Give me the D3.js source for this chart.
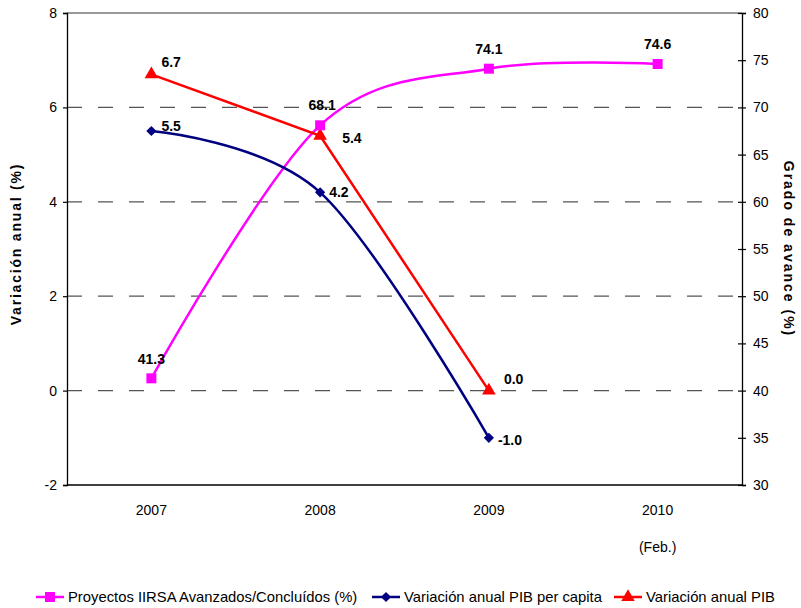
<!DOCTYPE html>
<html>
<head>
<meta charset="utf-8">
<script src="https://cdn.jsdelivr.net/npm/d3@7"></script>
<style>
  body { margin: 0; background: #fff; }
  text { font-family: "Liberation Sans", Arial, sans-serif; }
</style>
</head>
<body>
<svg id="chart" width="801" height="608"></svg>
<script>
// Categories and series
const years = ["2007", "2008", "2009", "2010"];
const proyectos = [41.3, 68.1, 74.1, 74.6];      // right axis (%)
const pibPerCapita = [5.5, 4.2, -1.0];            // left axis (%)
const pib = [6.7, 5.4, 0.0];                      // left axis (%)
const leftTicks = [-2, 0, 2, 4, 6, 8];
const rightTicks = [30, 35, 40, 45, 50, 55, 60, 65, 70, 75, 80];

const svg = d3.select("#chart");
const m = { left: 67, right: 742, top: 13, bottom: 485 };
const hyphenMinus = s => String(s).replace("\u2212", "-");

const x = d3.scalePoint().domain(years).range([m.left, m.right]).padding(0.5);
const yL = d3.scaleLinear().domain([-2, 8]).range([m.bottom, m.top]);
const yR = d3.scaleLinear().domain([30, 80]).range([m.bottom, m.top]);

// Gridlines
svg.append("g").selectAll("line")
  .data(leftTicks.filter(d => d > -2 && d < 8))
  .join("line")
  .attr("x1", m.left).attr("x2", m.right)
  .attr("y1", d => yL(d)).attr("y2", d => yL(d))
  .attr("stroke", "#555").attr("stroke-width", 1.3)
  .attr("stroke-dasharray", "15,16");
svg.append("line")
  .attr("x1", m.left).attr("x2", m.right)
  .attr("y1", yL(8)).attr("y2", yL(8))
  .attr("stroke", "#777").attr("stroke-width", 1.3);

// Left axis
const axL = d3.axisLeft(yL).tickValues(leftTicks).tickSize(4).tickPadding(6)
  .tickFormat(d => hyphenMinus(d3.format("d")(d)));
const gL = svg.append("g").attr("transform", `translate(${m.left},0)`).call(axL);
gL.select(".domain").attr("stroke", "#000").attr("stroke-width", 1.3);
gL.selectAll(".tick line").attr("stroke", "#000").attr("stroke-width", 1.2);
gL.selectAll("text").attr("font-size", 14).attr("fill", "#000")
  .style("font-family", "'Liberation Sans', Arial, sans-serif");

// Right axis (ticks cross the axis line)
const axR = d3.axisRight(yR).tickValues(rightTicks).tickSize(4).tickPadding(7).tickFormat(d3.format("d"));
const gR = svg.append("g").attr("transform", `translate(${m.right},0)`).call(axR);
gR.select(".domain").attr("stroke", "#000").attr("stroke-width", 1.3);
gR.selectAll(".tick line").attr("x1", -4).attr("x2", 4).attr("stroke", "#000").attr("stroke-width", 1.2);
gR.selectAll("text").attr("font-size", 14).attr("fill", "#000")
  .style("font-family", "'Liberation Sans', Arial, sans-serif");

// Bottom axis
svg.append("line")
  .attr("x1", m.left).attr("x2", m.right)
  .attr("y1", m.bottom).attr("y2", m.bottom)
  .attr("stroke", "#000").attr("stroke-width", 1.3);
svg.append("g").selectAll("text").data(years).join("text")
  .attr("x", d => x(d)).attr("y", 515)
  .attr("text-anchor", "middle").attr("font-size", 14).text(d => d);
svg.append("text").attr("x", x("2010")).attr("y", 552)
  .attr("text-anchor", "middle").attr("font-size", 14).text("(Feb.)");

// Axis titles
svg.append("text")
  .attr("transform", "translate(21,244) rotate(-90)")
  .attr("text-anchor", "middle").attr("font-size", 14).attr("font-weight", "bold")
  .attr("letter-spacing", 1.8)
  .text("Variación anual (%)");
svg.append("text")
  .attr("transform", "translate(784,249) rotate(90)")
  .attr("text-anchor", "middle").attr("font-size", 14).attr("font-weight", "bold")
  .attr("letter-spacing", 2)
  .text("Grado de avance (%)");

// Series
const smooth = d3.curveCardinal.tension(0);
const pink = "#ff00ff", navy = "#000080", red = "#ff0000";

const lineP = d3.line().x((d, i) => x(years[i])).y(d => yR(d)).curve(smooth);
const lineB = d3.line().x((d, i) => x(years[i])).y(d => yL(d)).curve(smooth);
const lineR = d3.line().x((d, i) => x(years[i])).y(d => yL(d));

svg.append("path").attr("d", lineP(proyectos)).attr("fill", "none").attr("stroke", pink).attr("stroke-width", 2.5);
svg.append("path").attr("d", lineB(pibPerCapita)).attr("fill", "none").attr("stroke", navy).attr("stroke-width", 2.5);
svg.append("path").attr("d", lineR(pib)).attr("fill", "none").attr("stroke", red).attr("stroke-width", 2.5);

const sq = d3.symbol().type(d3.symbolSquare).size(100);
const dm = d3.symbol().type(d3.symbolSquare).size(52);
const tri = d3.symbol().type(d3.symbolTriangle).size(80);

svg.append("g").selectAll("path").data(pib).join("path")
  .attr("d", tri).attr("fill", red)
  .attr("transform", (d, i) => `translate(${x(years[i])},${yL(d)})`);
svg.append("g").selectAll("path").data(pibPerCapita).join("path")
  .attr("d", dm).attr("fill", navy)
  .attr("transform", (d, i) => `translate(${x(years[i])},${yL(d)}) rotate(45)`);
svg.append("g").selectAll("path").data(proyectos).join("path")
  .attr("d", sq).attr("fill", pink)
  .attr("transform", (d, i) => `translate(${x(years[i])},${yR(d)})`);

// Data labels
const fmt = v => hyphenMinus(d3.format(".1f")(v));
const lbl = (val, px, py, dx, dy, anchor) =>
  svg.append("text").attr("x", px + dx).attr("y", py + dy)
    .attr("text-anchor", anchor).attr("font-size", 14).attr("font-weight", "bold")
    .text(fmt(val));

const pOff = [[0, -14, "middle"], [2, -15, "middle"], [0, -15, "middle"], [0, -15, "middle"]];
proyectos.forEach((v, i) => lbl(v, x(years[i]), yR(v), ...pOff[i]));
const bOff = [[10, 0, "start"], [9, 5, "start"], [9, 7, "start"]];
pibPerCapita.forEach((v, i) => lbl(v, x(years[i]), yL(v), ...bOff[i]));
const rOff = [[10, -7, "start"], [22, 7, "start"], [15, -7, "start"]];
pib.forEach((v, i) => lbl(v, x(years[i]), yL(v), ...rOff[i]));

// Legend
const legend = [
  { name: "Proyectos IIRSA Avanzados/Concluídos (%)", color: pink, sym: sq, x: 36, rot: 0 },
  { name: "Variación anual PIB per capita", color: navy, sym: dm, x: 372, rot: 45 },
  { name: "Variación anual PIB", color: red, sym: tri, x: 614, rot: 0 }
];
const lg = svg.append("g").selectAll("g").data(legend).join("g")
  .attr("transform", d => `translate(${d.x},597)`);
lg.append("line").attr("x1", 0).attr("x2", 28).attr("stroke", d => d.color).attr("stroke-width", 2.5);
lg.append("path").attr("d", d => d.sym()).attr("fill", d => d.color)
  .attr("transform", d => `translate(14,0) rotate(${d.rot})`);
lg.append("text").attr("x", 32).attr("y", 5).attr("font-size", 14.8).text(d => d.name);
</script>
</body>
</html>
